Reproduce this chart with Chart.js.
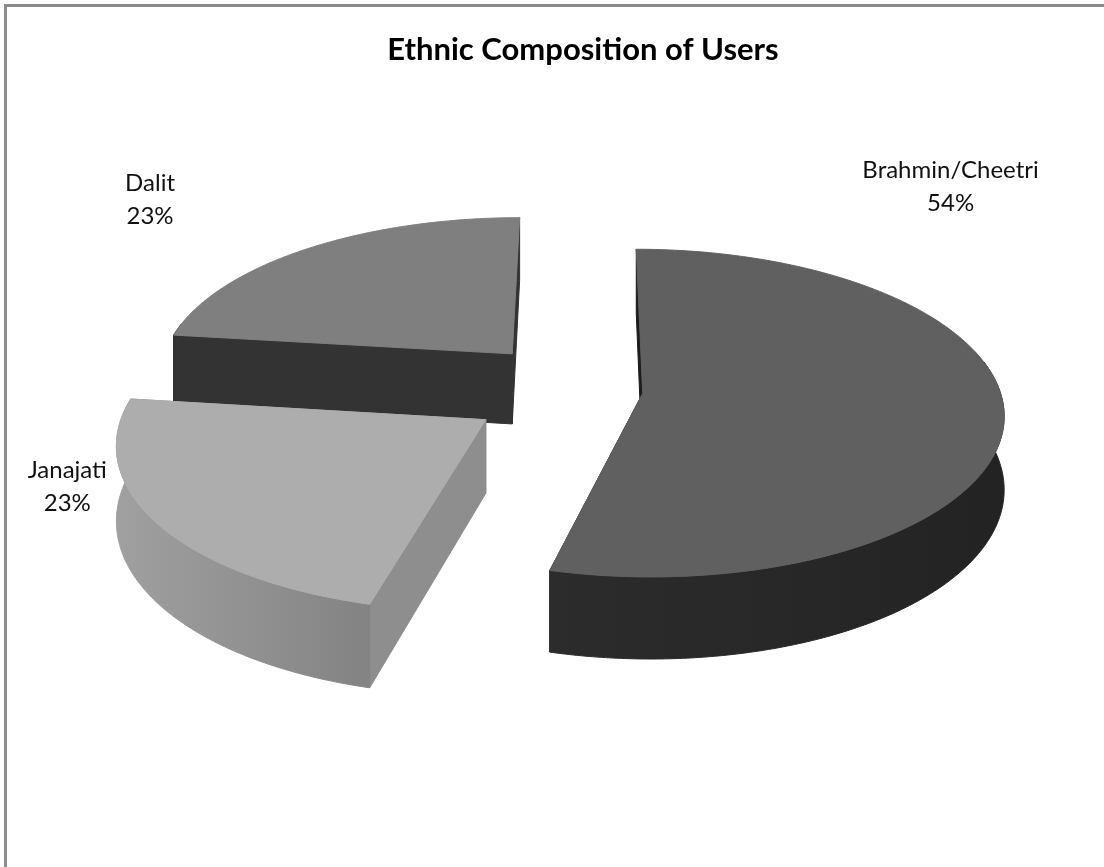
<!DOCTYPE html>
<html>
<head>
<meta charset="utf-8">
<title>Ethnic Composition of Users</title>
<script src="https://cdn.jsdelivr.net/npm/chart.js@4.4.0/dist/chart.umd.min.js"></script>
<style>
  html, body { margin: 0; padding: 0; background: #fff; }
</style>
</head>
<body>
<canvas id="ethnicChart" width="1104" height="867"></canvas>
<script>
// Survey data
const groups = ['Brahmin/Cheetri', 'Janajati', 'Dalit'];
const shares = [54, 23, 23];

// Slice styling
const topColors = ['#606060', '#adadad', '#7f7f7f'];
const rimColors = [['#2c2c2c', '#232323'], ['#a0a0a0', '#838383'], ['#333333', '#333333']];
const cutColors = ['#1c1c1c', '#8e8e8e', '#333333'];
const explode = [60, 115, 110];
// where each label sits, as angle (deg) and distance in radii from the pie centre
const labelSpots = [
    { angle: -50.8, dist: 1.92 },
    { angle: 157.3, dist: 1.46 },
    { angle: 224.3, dist: 1.975 }
];

const TILT = 0.45;    // squash of the pie plane
const PERSP = 0.12;   // near side grows, far side shrinks
const DEPTH = 72;     // thickness of the pie

// map a point on the pie plane (u right, v towards the viewer) to the canvas
function project(arc, u, v, h) {
    const f = 1 / (1 - PERSP * v / arc.outerRadius);
    return [arc.x + f * u, arc.y + f * (TILT * v + h)];
}

function sampleArc(a0, a1) {
    const n = Math.max(2, Math.ceil((a1 - a0) / 0.01) + 1);
    const out = [];
    for (let j = 0; j < n; j++) {
        out.push(a0 + (a1 - a0) * j / (n - 1));
    }
    return out;
}

// parts of the outer wall that face the viewer
function frontRanges(s, e) {
    const out = [];
    for (let k = -1; k <= 1; k++) {
        const lo = Math.max(s, 2 * Math.PI * k - 0.2);
        const hi = Math.min(e, 2 * Math.PI * k + Math.PI + 0.2);
        if (hi > lo) out.push([lo, hi]);
    }
    return out;
}

function paint(ctx, pts, fill) {
    ctx.beginPath();
    pts.forEach((p, j) => j ? ctx.lineTo(p[0], p[1]) : ctx.moveTo(p[0], p[1]));
    ctx.closePath();
    ctx.fillStyle = fill;
    ctx.strokeStyle = fill;
    ctx.lineWidth = 1;
    ctx.lineJoin = 'round';
    ctx.fill();
    ctx.stroke();
}

function frontness(arc) {
    const mid = (arc.startAngle + arc.endAngle) / 2;
    return (arc.options.offset || 0) * Math.sin(mid);
}

function drawSlice(ctx, arc, i) {
    const { startAngle, endAngle, outerRadius } = arc;
    const off = arc.options.offset || 0;
    const mid = (startAngle + endAngle) / 2;
    const du = Math.cos(mid) * off;
    const dv = Math.sin(mid) * off;
    const pt = (a, r, h) => project(arc, du + Math.cos(a) * r, dv + Math.sin(a) * r, h);

    // the two cut faces along the radii
    [startAngle, endAngle].forEach(a => {
        paint(ctx, [pt(a, 0, 0), pt(a, outerRadius, 0), pt(a, outerRadius, DEPTH), pt(a, 0, DEPTH)], cutColors[i]);
    });

    // outer wall
    frontRanges(startAngle, endAngle).forEach(([a0, a1]) => {
        const angles = sampleArc(a0, a1);
        const upper = angles.map(a => pt(a, outerRadius, 0));
        const lower = angles.map(a => pt(a, outerRadius, DEPTH)).reverse();
        const xs = upper.map(p => p[0]);
        const grad = ctx.createLinearGradient(Math.min(...xs), 0, Math.max(...xs) + 1, 0);
        grad.addColorStop(0, rimColors[i][0]);
        grad.addColorStop(1, rimColors[i][1]);
        paint(ctx, upper.concat(lower), grad);
    });

    // top face
    const top = [pt(0, 0, 0)].concat(sampleArc(startAngle, endAngle).map(a => pt(a, outerRadius, 0)));
    paint(ctx, top, arc.options.backgroundColor);
}

// pie drawn as thick exploded slices, back slices first
class Pie3DController extends Chart.PieController {
    draw() {
        const ctx = this.chart.ctx;
        const arcs = this._cachedMeta.data;
        const order = arcs.map((_, i) => i).sort((a, b) => frontness(arcs[a]) - frontness(arcs[b]));
        ctx.save();
        order.forEach(i => drawSlice(ctx, arcs[i], i));
        ctx.restore();
    }
}
Pie3DController.id = 'pie3d';
Chart.register(Pie3DController);

const frame = {
    id: 'frame',
    beforeDraw(chart) {
        const { ctx, width, height } = chart;
        ctx.save();
        ctx.fillStyle = '#fff';
        ctx.fillRect(0, 0, width, height);
        ctx.strokeStyle = '#8c8c8c';
        ctx.lineWidth = 3;
        ctx.beginPath();
        ctx.moveTo(5.5, height);
        ctx.lineTo(5.5, 5.5);
        ctx.lineTo(width, 5.5);
        ctx.stroke();
        ctx.restore();
    }
};

const sliceLabels = {
    id: 'sliceLabels',
    afterDatasetsDraw(chart) {
        const ctx = chart.ctx;
        const arcs = chart.getDatasetMeta(0).data;
        const total = shares.reduce((s, v) => s + v, 0);
        ctx.save();
        ctx.font = '24px Lato';
        ctx.fillStyle = '#111';
        ctx.textAlign = 'center';
        ctx.textBaseline = 'middle';
        arcs.forEach((arc, i) => {
            const spot = labelSpots[i];
            const a = spot.angle * Math.PI / 180;
            const r = spot.dist * arc.outerRadius;
            const [x, y] = project(arc, Math.cos(a) * r, Math.sin(a) * r, 0);
            ctx.fillText(groups[i], x, y - 16.5);
            ctx.fillText(Math.round(shares[i] / total * 100) + '%', x, y + 16.5);
        });
        ctx.restore();
    }
};

new Chart(document.getElementById('ethnicChart'), {
    type: 'pie3d',
    data: {
        labels: groups,
        datasets: [{
            data: shares,
            backgroundColor: topColors,
            offset: explode,
            borderWidth: 0
        }]
    },
    options: {
        responsive: false,
        animation: false,
        radius: 357,
        layout: {
            padding: { left: 62, right: 0, top: 0, bottom: 165.2 }
        },
        plugins: {
            legend: { display: false },
            tooltip: { enabled: false },
            title: {
                display: true,
                text: 'Ethnic Composition of Users',
                color: '#000',
                font: { family: 'Lato', size: 31, weight: 'bold' },
                padding: { top: 31, bottom: 10 }
            }
        }
    },
    plugins: [frame, sliceLabels]
});
</script>
</body>
</html>
